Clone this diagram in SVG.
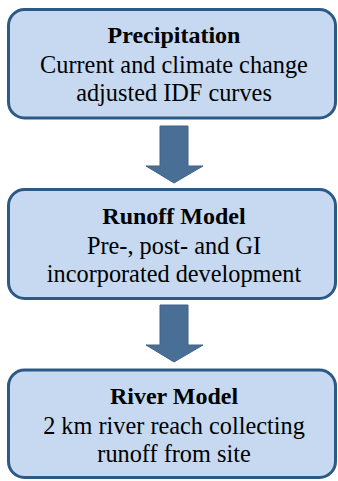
<svg xmlns="http://www.w3.org/2000/svg" width="338" height="481" viewBox="0 0 338 481">
<style>
.box{fill:#c6d9f0;stroke:#2c5a86;stroke-width:3}
.arr{fill:#4a6f96;stroke:#3f6389;stroke-width:1}
.t{font-weight:bold;font-size:24px}
.s{font-size:24.3px}
</style>
<rect width="338" height="481" fill="#fff"/>
<g id="connectors">
<polygon class="arr" points="160,126 188,126 188,166 203,166 174,183 146,166 160,166"/>
<polygon class="arr" points="160,305 188,305 188,345 203,345 174,362 146,345 160,345"/>
</g>
<g font-family="Liberation Serif, DejaVu Serif, serif" text-anchor="middle" fill="#000">
<g id="precipitation">
<rect class="box" x="8.5" y="9.5" width="327" height="108.5" rx="16"/>
<text class="t" x="174" y="43">Precipitation</text>
<text class="s" x="174" y="73">Current and climate change</text>
<text class="s" x="174" y="101">adjusted IDF curves</text>
</g>
<g id="runoff">
<rect class="box" x="8.5" y="189.5" width="327" height="109" rx="16"/>
<text class="t" x="174" y="224">Runoff Model</text>
<text class="s" x="174" y="254">Pre-, post- and GI</text>
<text class="s" x="174" y="282">incorporated development</text>
</g>
<g id="river">
<rect class="box" x="8.5" y="370" width="327" height="107.5" rx="16"/>
<text class="t" x="174" y="404">River Model</text>
<text class="s" x="174" y="434">2 km river reach collecting</text>
<text class="s" x="174" y="462">runoff from site</text>
</g>
</g>
</svg>
